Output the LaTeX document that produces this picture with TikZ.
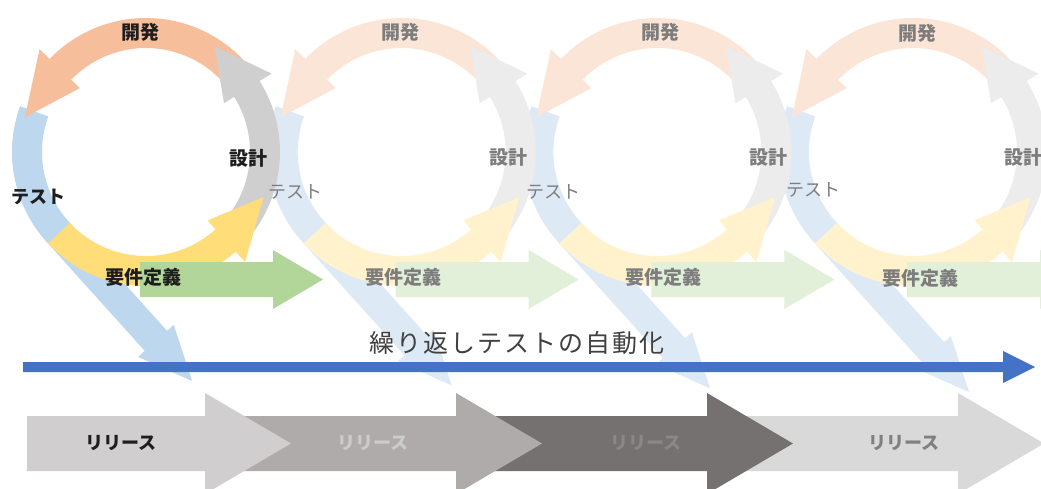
\documentclass[tikz,border=0pt]{standalone}
\usepackage{fontspec}
\newfontfamily\jp{Noto Sans CJK JP}
\usetikzlibrary{calc}
\definecolor{bluA}{RGB}{189,215,238}
\definecolor{oraA}{RGB}{246,190,155}
\definecolor{graA}{RGB}{207,207,207}
\definecolor{yelA}{RGB}{255,221,120}
\definecolor{greA}{RGB}{178,214,154}
\definecolor{bluB}{RGB}{221,234,246}
\definecolor{oraB}{RGB}{251,229,214}
\definecolor{graB}{RGB}{236,236,236}
\definecolor{yelB}{RGB}{255,242,204}
\definecolor{greB}{RGB}{226,239,217}
\definecolor{relA}{RGB}{208,206,206}
\definecolor{relB}{RGB}{175,171,171}
\definecolor{relC}{RGB}{118,113,113}
\definecolor{relD}{RGB}{217,217,217}
\definecolor{relCt}{RGB}{140,135,135}
\definecolor{autob}{RGB}{68,114,196}
\definecolor{txtA}{RGB}{30,30,30}
\definecolor{txtB}{RGB}{125,125,125}
\newcommand{\ringband}[5]{% color, start, body end, tip, (unused)
  \fill[#1] (#2:134) arc[start angle=#2,end angle=#3,radius=134]
    -- (#3:148) -- (#4:126) -- (#3:92) -- (#3:104)
    arc[start angle=#3,end angle=#2,radius=104] -- cycle;}
\newcommand{\drawcycle}[7]{%
  \begin{scope}[shift={(#1,-152)}]
    \pgfmathsetmacro\Ltip{#2+54}
    \fill[#3] (160:134) arc[start angle=160,end angle=222,radius=134]
      -- ($(222:134)+(-48:#2)$) -- ($(222:143)+(-48:#2)$)
      -- ($(222:119)+(-48:\Ltip)$) -- ($(222:95)+(-48:#2)$)
      -- ($(222:104)+(-48:#2)$) -- (222:104)
      arc[start angle=222,end angle=160,radius=104] -- cycle;
    \ringband{#4}{40}{136}{164}{}
    \ringband{#5}{320}{392}{417}{}
    \ringband{#6}{223}{312}{339}{}
    \fill[#7] (-6,-110) -- (127,-110) -- (127,-98) -- (177,-127.5)
      -- (127,-157) -- (127,-145) -- (-6,-145) -- cycle;
  \end{scope}}
\tikzset{
  lab/.style={font=\jp\bfseries\fontsize{19}{21}\selectfont, inner sep=0pt},
  rlab/.style={font=\jp\bfseries\fontsize{18}{20}\selectfont, inner sep=0pt},
  labA/.style={lab, text=txtA},
  labB/.style={lab, text=txtB},
  labBr/.style={font=\jp\fontsize{18}{20}\selectfont, inner sep=0pt, text=txtB},
}
\begin{document}
\begin{tikzpicture}[x=1pt,y=1pt]
\clip (0,0) rectangle (1041,-489);
\fill[white] (0,0) rectangle (1041,-489);
% release arrows (back to front)
\foreach \k/\c in {3/relD,2/relC,1/relB,0/relA}{
  \pgfmathsetmacro\hx{205+251*\k}
  \pgfmathsetmacro\bl{\k==0 ? 27 : \hx-230}
  \pgfmathsetmacro\tp{\hx+86}
  \fill[\c] (\bl,-416) -- (\hx,-416) -- (\hx,-393) -- (\tp,-443.5)
    -- (\hx,-494) -- (\hx,-471) -- (\bl,-471) -- cycle;
}
% cycles (back to front)
\drawcycle{913}{162}{bluB}{oraB}{graB}{yelB}{greB}
\drawcycle{657.4}{157}{bluB}{oraB}{graB}{yelB}{greB}
\drawcycle{401.7}{153}{bluB}{oraB}{graB}{yelB}{greB}
\drawcycle{146}{147}{bluA}{oraA}{graA}{yelA}{greA}
% automation arrow
\fill[autob] (23,-362) -- (1003,-362) -- (1003,-351) -- (1035,-367)
  -- (1003,-383) -- (1003,-372) -- (23,-372) -- cycle;
\node[font=\jp\fontsize{25}{28}\selectfont\addfontfeature{LetterSpace=8}, text=black!75, inner sep=0pt] (auto) at (517,-343) {繰り返しテストの自動化};
% cycle labels
\node[labA] (dev1) at (140,-32) {開発};
\node[labA] (des1) at (248,-158) {設計};
\node[labA, rlab] (tst1) at (38,-197) {テスト};
\node[labA] (req1) at (143,-277) {要件定義};
\node[labB] (dev2) at (400,-32) {開発};
\node[labB] (des2) at (508,-157) {設計};
\node[labBr] (tst2) at (295,-192) {テスト};
\node[labB] (req2) at (403,-277) {要件定義};
\node[labB] (dev3) at (660,-32) {開発};
\node[labB] (des3) at (768,-157) {設計};
\node[labBr] (tst3) at (553,-192) {テスト};
\node[labB] (req3) at (663,-277) {要件定義};
\node[labB] (dev4) at (917,-33) {開発};
\node[labB] (des4) at (1023,-157) {設計};
\node[labBr] (tst4) at (813,-190) {テスト};
\node[labB] (req4) at (920,-278) {要件定義};
% release labels
\node[rlab, text=txtA] (rel1) at (121,-443) {リリース};
\node[rlab, text=black!20] (rel2) at (373,-443) {リリース};
\node[rlab, text=relCt] (rel3) at (646,-443) {リリース};
\node[rlab, text=black!50] (rel4) at (904,-443) {リリース};
\end{tikzpicture}
\end{document}
